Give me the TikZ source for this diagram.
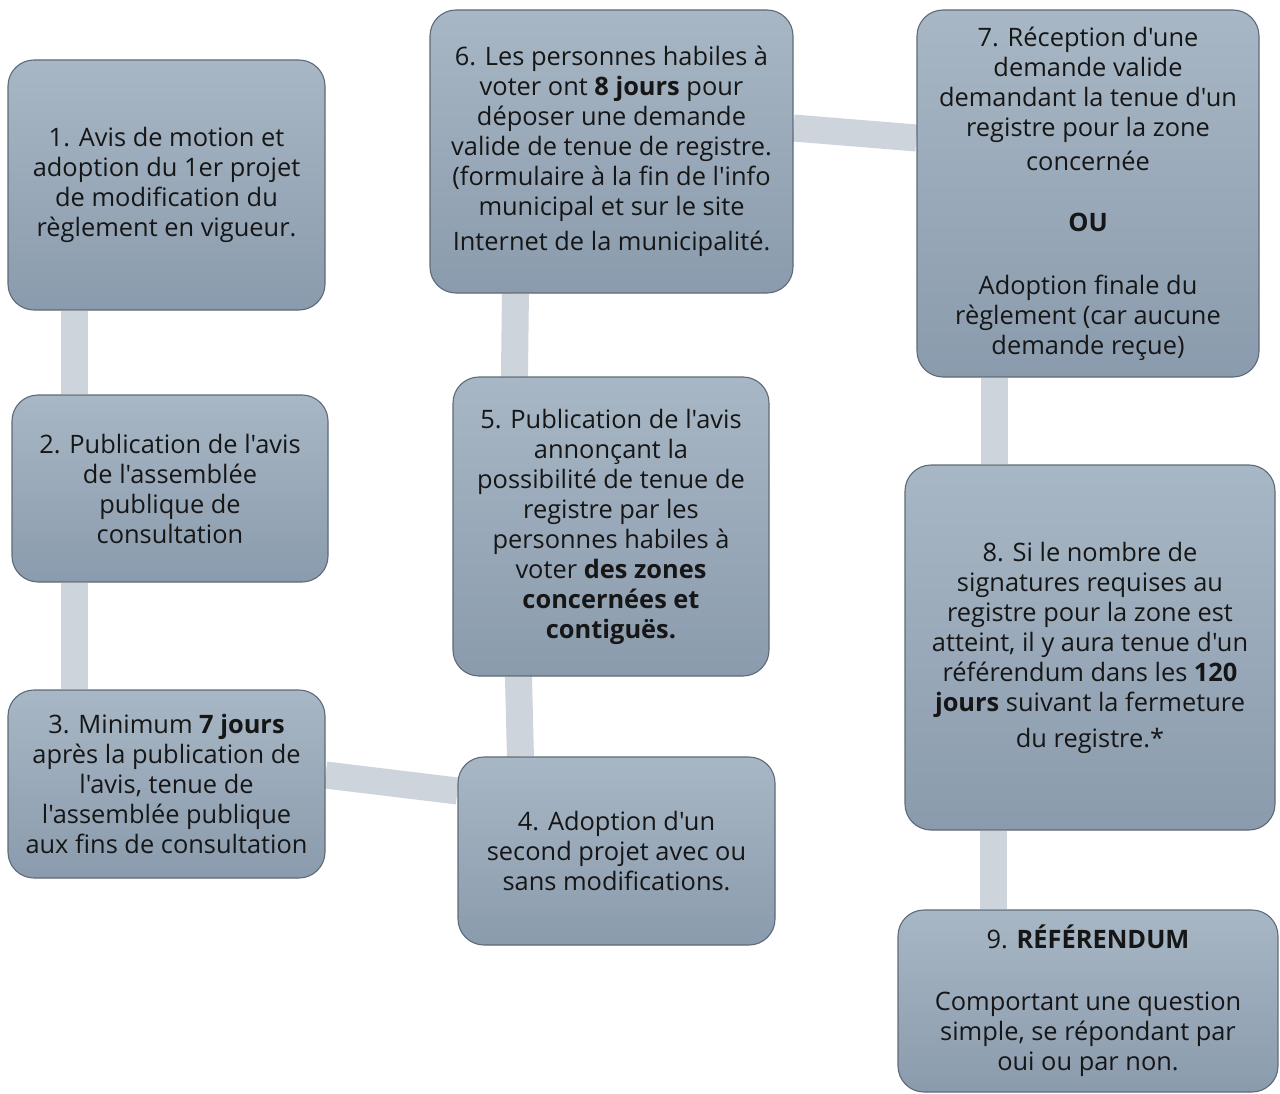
\documentclass[tikz,border=0pt]{standalone}
\usepackage{fontspec}
\setmainfont{Open Sans}[Ligatures=TeXOff]
\usetikzlibrary{backgrounds}
\definecolor{boxtop}{HTML}{A8B7C5}
\definecolor{boxbot}{HTML}{8A9BAD}
\definecolor{boxline}{HTML}{5E6A77}
\definecolor{connc}{HTML}{CDD4DB}
\definecolor{txt}{HTML}{161616}
\begin{document}
\begin{tikzpicture}[x=1pt,y=-1pt,
  stepbox/.style={draw=boxline, line width=1.1pt, rounded corners=26pt,
    top color=boxtop, bottom color=boxbot, align=center, text=txt,
    inner sep=0pt, font=\fontsize{25.4}{30}\selectfont},
  conn/.style={draw=connc, line width=27pt}]
\useasboundingbox (0,0) rectangle (1280,1094);
% nodes
\node[stepbox, minimum width=317pt, minimum height=250pt] (n1) at (166.5,185)
  {1. Avis de motion et\\adoption du 1er projet\\de modification du\\règlement en vigueur.};
\node[stepbox, minimum width=316pt, minimum height=187pt] (n2) at (170,488.5)
  {2. Publication de l'avis\\de l'assemblée\\publique de\\consultation};
\node[stepbox, minimum width=317pt, minimum height=188pt] (n3) at (166.5,784)
  {3. Minimum \textbf{7 jours}\\après la publication de\\l'avis, tenue de\\l'assemblée publique\\aux fins de consultation};
\node[stepbox, minimum width=317pt, minimum height=188pt] (n4) at (616.5,851)
  {4. Adoption d'un\\second projet avec ou\\sans modifications.};
\node[stepbox, minimum width=316pt, minimum height=299pt] (n5) at (611,526.5)
  {5. Publication de l'avis\\annonçant la\\possibilité de tenue de\\registre par les\\personnes habiles à\\voter \textbf{des zones}\\\textbf{concernées et}\\\textbf{contiguës.}};
\node[stepbox, minimum width=363pt, minimum height=283pt] (n6) at (611.5,151.5)
  {6. Les personnes habiles à\\voter ont \textbf{8 jours} pour\\déposer une demande\\valide de tenue de registre.\\(formulaire à la fin de l'info\\municipal et sur le site\\[5pt]Internet de la municipalité.};
\node[stepbox, minimum width=342pt, minimum height=367pt] (n7) at (1088,193.5)
  {7. Réception d'une\\demande valide\\demandant la tenue d'un\\registre pour la zone\\[4pt]concernée\\[31pt]\textbf{OU}\\[33pt]Adoption finale du\\règlement (car aucune\\demande reçue)};
\node[stepbox, minimum width=370pt, minimum height=365pt] (n8) at (1090,647.5)
  {8. Si le nombre de\\signatures requises au\\registre pour la zone est\\atteint, il y aura tenue d'un\\référendum dans les \textbf{120}\\\textbf{jours} suivant la fermeture\\[6pt]du registre.*};
\node[stepbox, minimum width=380pt, minimum height=182pt] (n9) at (1088,1001)
  {9. \textbf{RÉFÉRENDUM}\\[32pt]Comportant une question\\simple, se répondant par\\oui ou par non.};
% connectors (behind boxes)
\begin{scope}[on background layer]
\fill[white] (0,0) rectangle (1280,1094);
\draw[conn] ([xshift=67pt]n1.south west) -- ([xshift=63pt]n2.north west);
\draw[conn] ([xshift=63pt]n2.south west) -- ([xshift=67pt]n3.north west);
\draw[conn] ([yshift=9pt]n3.east) -- ([yshift=60pt]n4.west);
\draw[conn] ([xshift=63pt]n4.north west) -- ([xshift=66pt]n5.south west);
\draw[conn] ([xshift=62pt]n5.north west) -- ([xshift=86pt]n6.south west);
\draw[conn] ([yshift=23.5pt]n6.east) -- ([yshift=55.5pt]n7.west);
\draw[conn] ([xshift=78pt]n7.south west) -- ([xshift=90pt]n8.north west);
\draw[conn] ([xshift=89pt]n8.south west) -- ([xshift=96pt]n9.north west);
\end{scope}
\end{tikzpicture}
\end{document}
